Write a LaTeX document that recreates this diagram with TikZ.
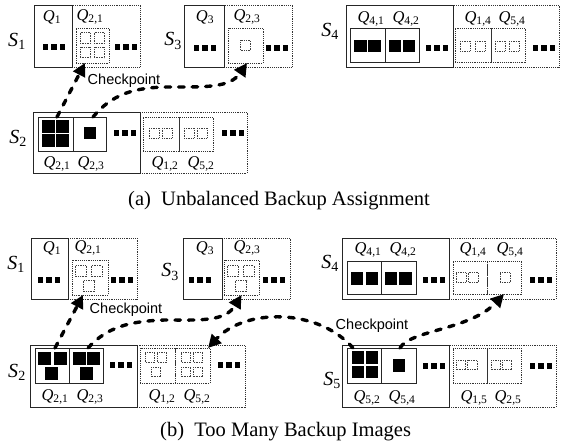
\documentclass[tikz,border=0pt]{standalone}
\usepackage{fontspec}
\setmainfont{Liberation Serif}[ItalicFont={Liberation Serif Italic}]
\newfontfamily\ckfont{Liberation Sans}
\newfontfamily\itfont{Liberation Serif Italic}
\usetikzlibrary{arrows.meta}
\newcommand\Slab[1]{{\itfont S}\textsubscript{#1}}
\newcommand\Qlab[1]{{\itfont Q}\textsubscript{#1}}
\newcommand\bx[6]{\node[#1, minimum width={(#5)-(#3)}, minimum height={(#6)-(#4)}] (#2) at ({((#3)+(#5))/2},{((#4)+(#6))/2}) {};}
\newcommand\sqr[4]{\path[#1] ({(#2)-(#4)/2},{(#3)-(#4)/2}) rectangle ++(#4,#4);}
\newcommand\dotrow[2]{\foreach \dd in {-8.5,0,8.5}{\fill ({(#1)+\dd-2.6},{(#2)-2.6}) rectangle ++(5.2,5.2);}}
\tikzset{
  outsolid/.style={draw=black!85, line width=0.85pt, inner sep=0pt, outer sep=0pt},
  outdot/.style={draw=black!80, line width=0.85pt, densely dotted, inner sep=0pt, outer sep=0pt},
  insolid/.style={draw=black!85, line width=0.8pt, inner sep=0pt, outer sep=0pt},
  indot/.style={draw=black!80, line width=0.85pt, densely dotted, inner sep=0pt, outer sep=0pt},
  blk/.style={fill=black},
  emp/.style={draw=black!75, line width=0.7pt, densely dotted},
  ck/.style={line width=3.4pt, dash pattern=on 5.5pt off 8pt, line cap=round, -{Triangle[length=13pt,width=13pt]}},
  slab/.style={inner sep=0pt, font=\fontsize{20}{22}\selectfont},
  qlab/.style={inner sep=0pt, font=\fontsize{16.5}{18}\selectfont},
  cklab/.style={inner sep=0pt, font=\ckfont\fontsize{14.5}{16}\selectfont},
  caplab/.style={inner sep=0pt, anchor=base west, font=\fontsize{20.5}{22}\selectfont}
}
\begin{document}
\begin{tikzpicture}[x=1pt,y=-1pt]
\useasboundingbox[fill=white] (0,0) rectangle (569,446);
% ===================== (a) =====================
% S1
\bx{outdot}{a1d}{72}{5}{140}{67}
\bx{outsolid}{a1s}{34}{5}{72}{67}
\bx{indot}{a1in}{76}{28}{109}{63}
\sqr{emp}{85.5}{38}{10.5}\sqr{emp}{99.5}{38}{10.5}\sqr{emp}{85.5}{52.5}{10.5}\sqr{emp}{99.5}{52.5}{10.5}
\dotrow{54}{47}\dotrow{126}{47}
\node[slab] (la1) at (17,41) {\Slab{1}};
\node[qlab] (la1q1) at (52,17) {\Qlab{1}};
\node[qlab] (la1q21) at (90,17) {\Qlab{2,1}};
% S3
\bx{outdot}{a3d}{224}{5}{292}{67}
\bx{outsolid}{a3s}{184}{5}{224}{67}
\bx{indot}{a3in}{228}{28}{263}{63}
\sqr{emp}{245.5}{45.5}{10}
\dotrow{205}{48}\dotrow{277}{48}
\node[slab] (la3) at (173,41) {\Slab{3}};
\node[qlab] (la3q3) at (205,17) {\Qlab{3}};
\node[qlab] (la3q23) at (247,17) {\Qlab{2,3}};
% S4
\bx{outdot}{a4d}{453}{5}{559}{67}
\bx{outsolid}{a4s}{346}{5}{453}{67}
\bx{insolid}{a4h1}{350}{28}{385}{62}
\bx{insolid}{a4h2}{385}{28}{419}{62}
\sqr{blk}{360.5}{46}{12.5}\sqr{blk}{374.5}{46}{12.5}\sqr{blk}{395}{46}{12.5}\sqr{blk}{409}{46}{12.5}
\bx{indot}{a4e1}{455}{28}{491}{62}
\bx{indot}{a4e2}{491}{28}{525}{62}
\sqr{emp}{465}{46}{10}\sqr{emp}{480}{46}{10}\sqr{emp}{500}{46}{10}\sqr{emp}{514}{46}{10}
\dotrow{437}{48}\dotrow{544}{48}
\node[slab] (la4) at (330,31) {\Slab{4}};
\node[qlab] (la4q41) at (371,19) {\Qlab{4,1}};
\node[qlab] (la4q42) at (406,19) {\Qlab{4,2}};
\node[qlab] (la4q14) at (478,19) {\Qlab{1,4}};
\node[qlab] (la4q54) at (512,19) {\Qlab{5,4}};
% S2
\bx{outdot}{a2d}{140}{112}{247}{173}
\bx{outsolid}{a2s}{33}{112}{140}{173}
\bx{insolid}{a2h1}{38}{117}{73}{151}
\bx{insolid}{a2h2}{73}{117}{106}{151}
\sqr{blk}{48.5}{126.5}{13}\sqr{blk}{62.5}{126.5}{13}\sqr{blk}{48.5}{140.5}{13}\sqr{blk}{62.5}{140.5}{13}
\sqr{blk}{90}{133}{12.5}
\bx{indot}{a2e1}{143}{117}{179}{151}
\bx{indot}{a2e2}{179}{117}{213}{151}
\sqr{emp}{154}{133}{10}\sqr{emp}{167}{133}{10}\sqr{emp}{189}{133}{10}\sqr{emp}{202}{133}{10}
\dotrow{125}{133}\dotrow{233}{133}
\node[slab] (la2) at (18,138) {\Slab{2}};
\node[qlab] (la2q21) at (57,164) {\Qlab{2,1}};
\node[qlab] (la2q23) at (91,164) {\Qlab{2,3}};
\node[qlab] (la2q12) at (165,164) {\Qlab{1,2}};
\node[qlab] (la2q52) at (201,164) {\Qlab{5,2}};
% arrows (a)
\draw[ck] ([xshift=1.5pt]a2h1.north) -- ([xshift=-7.5pt]a1in.south);
\draw[ck] ([xshift=3.5pt]a2h2.north) .. controls (112,94) and (135,87) .. (170,87) .. controls (205,87) and (230,88) .. ([xshift=1.5pt]a3in.south);
\node[cklab] (cka) at (124,81) {Checkpoint};
\node[caplab] (capa) at (128,205) {(a)\ \ Unbalanced Backup Assignment};
% ===================== (b) =====================
% S1
\bx{outdot}{b1d}{68}{238}{137}{299}
\bx{outsolid}{b1s}{31}{238}{68}{299}
\bx{indot}{b1in}{72}{260}{108}{295}
\sqr{emp}{81}{271}{11}\sqr{emp}{96.5}{271}{11}\sqr{emp}{89}{286}{11}
\dotrow{49}{280}\dotrow{122}{280}
\node[slab] (lb1) at (16,264) {\Slab{1}};
\node[qlab] (lb1q1) at (52,248) {\Qlab{1}};
\node[qlab] (lb1q21) at (88,248) {\Qlab{2,1}};
% S3
\bx{outdot}{b3d}{222}{238}{290}{299}
\bx{outsolid}{b3s}{183}{238}{222}{299}
\bx{indot}{b3in}{224}{260}{259}{295}
\sqr{emp}{233}{271}{11}\sqr{emp}{248.5}{271}{11}\sqr{emp}{241}{286}{11}
\dotrow{200}{280}\dotrow{274}{280}
\node[slab] (lb3) at (170,272) {\Slab{3}};
\node[qlab] (lb3q3) at (205,248) {\Qlab{3}};
\node[qlab] (lb3q23) at (247,248) {\Qlab{2,3}};
% S4
\bx{outdot}{b4d}{449}{238}{556}{299}
\bx{outsolid}{b4s}{342}{238}{449}{299}
\bx{insolid}{b4h1}{347}{261}{381}{294}
\bx{insolid}{b4h2}{381}{261}{416}{294}
\sqr{blk}{357}{278.5}{12.5}\sqr{blk}{372}{278.5}{12.5}\sqr{blk}{391}{278.5}{12.5}\sqr{blk}{405.5}{278.5}{12.5}
\bx{indot}{b4e1}{453}{261}{487}{294}
\bx{indot}{b4e2}{487}{261}{521}{294}
\sqr{emp}{461}{277.5}{10}\sqr{emp}{473.5}{277.5}{10}\sqr{emp}{505}{277.5}{10}
\dotrow{434}{280}\dotrow{541}{280}
\node[slab] (lb4) at (330,263) {\Slab{4}};
\node[qlab] (lb4q41) at (368,250) {\Qlab{4,1}};
\node[qlab] (lb4q42) at (403,250) {\Qlab{4,2}};
\node[qlab] (lb4q14) at (473,250) {\Qlab{1,4}};
\node[qlab] (lb4q54) at (510,250) {\Qlab{5,4}};
% S2
\bx{outdot}{b2d}{137}{345}{245}{407}
\bx{outsolid}{b2s}{30}{345}{137}{407}
\bx{insolid}{b2h1}{35}{348}{69}{383}
\bx{insolid}{b2h2}{69}{348}{103}{383}
\sqr{blk}{44.5}{358}{13}\sqr{blk}{60}{358}{13}\sqr{blk}{51}{373.5}{13}
\sqr{blk}{79}{358}{13}\sqr{blk}{93.5}{358}{13}\sqr{blk}{86.5}{373.5}{13}
\bx{indot}{b2e1}{140}{348}{175}{383}
\bx{indot}{b2e2}{175}{348}{210}{383}
\sqr{emp}{150}{357.5}{9.5}\sqr{emp}{162}{357.5}{9.5}\sqr{emp}{156}{372}{9.5}
\sqr{emp}{186}{357.5}{9.5}\sqr{emp}{198}{357.5}{9.5}\sqr{emp}{186}{372}{9.5}\sqr{emp}{198}{372}{9.5}
\dotrow{121}{365}\dotrow{229}{365}
\node[slab] (lb2) at (17,372) {\Slab{2}};
\node[qlab] (lb2q21) at (55,397) {\Qlab{2,1}};
\node[qlab] (lb2q23) at (90,397) {\Qlab{2,3}};
\node[qlab] (lb2q12) at (162,397) {\Qlab{1,2}};
\node[qlab] (lb2q52) at (197,397) {\Qlab{5,2}};
% S5
\bx{outdot}{b5d}{449}{345}{556}{407}
\bx{outsolid}{b5s}{342}{345}{449}{407}
\bx{insolid}{b5h1}{347}{348}{381}{383}
\bx{insolid}{b5h2}{381}{348}{416}{383}
\sqr{blk}{358}{357.5}{12.5}\sqr{blk}{372}{357.5}{12.5}\sqr{blk}{358}{372}{12.5}\sqr{blk}{372}{372}{12.5}
\sqr{blk}{399}{365.5}{12.5}
\bx{indot}{b5e1}{453}{348}{487}{383}
\bx{indot}{b5e2}{487}{348}{521}{383}
\sqr{emp}{461}{365}{9.5}\sqr{emp}{472.5}{365}{9.5}\sqr{emp}{496}{365}{9.5}\sqr{emp}{507}{365}{9.5}
\dotrow{434}{366}\dotrow{541}{366}
\node[slab] (lb5) at (332,380) {\Slab{5}};
\node[qlab] (lb5q52) at (367,398) {\Qlab{5,2}};
\node[qlab] (lb5q54) at (402,398) {\Qlab{5,4}};
\node[qlab] (lb5q15) at (474,398) {\Qlab{1,5}};
\node[qlab] (lb5q25) at (508,398) {\Qlab{2,5}};
% arrows (b)
\draw[ck] ([xshift=3pt]b2h1.north) -- ([xshift=-7pt]b1in.south);
\draw[ck] ([xshift=2pt]b2h2.north) .. controls (107,327) and (130,321) .. (165,320) .. controls (200,320) and (225,322) .. (b3in.south);
\draw[ck] ([xshift=-11pt]b5h1.north) .. controls (318,308) and (245,308) .. ([xshift=-2pt]b2e2.north east);
\draw[ck] ([xshift=1.5pt]b5h2.north) .. controls (410,330) and (470,330) .. (b4e2.south);
\node[cklab] (ckb1) at (126,310) {Checkpoint};
\node[cklab] (ckb2) at (372,326) {Checkpoint};
\node[caplab] (capb) at (160,436) {(b)\ \ Too Many Backup Images};
\end{tikzpicture}
\end{document}
